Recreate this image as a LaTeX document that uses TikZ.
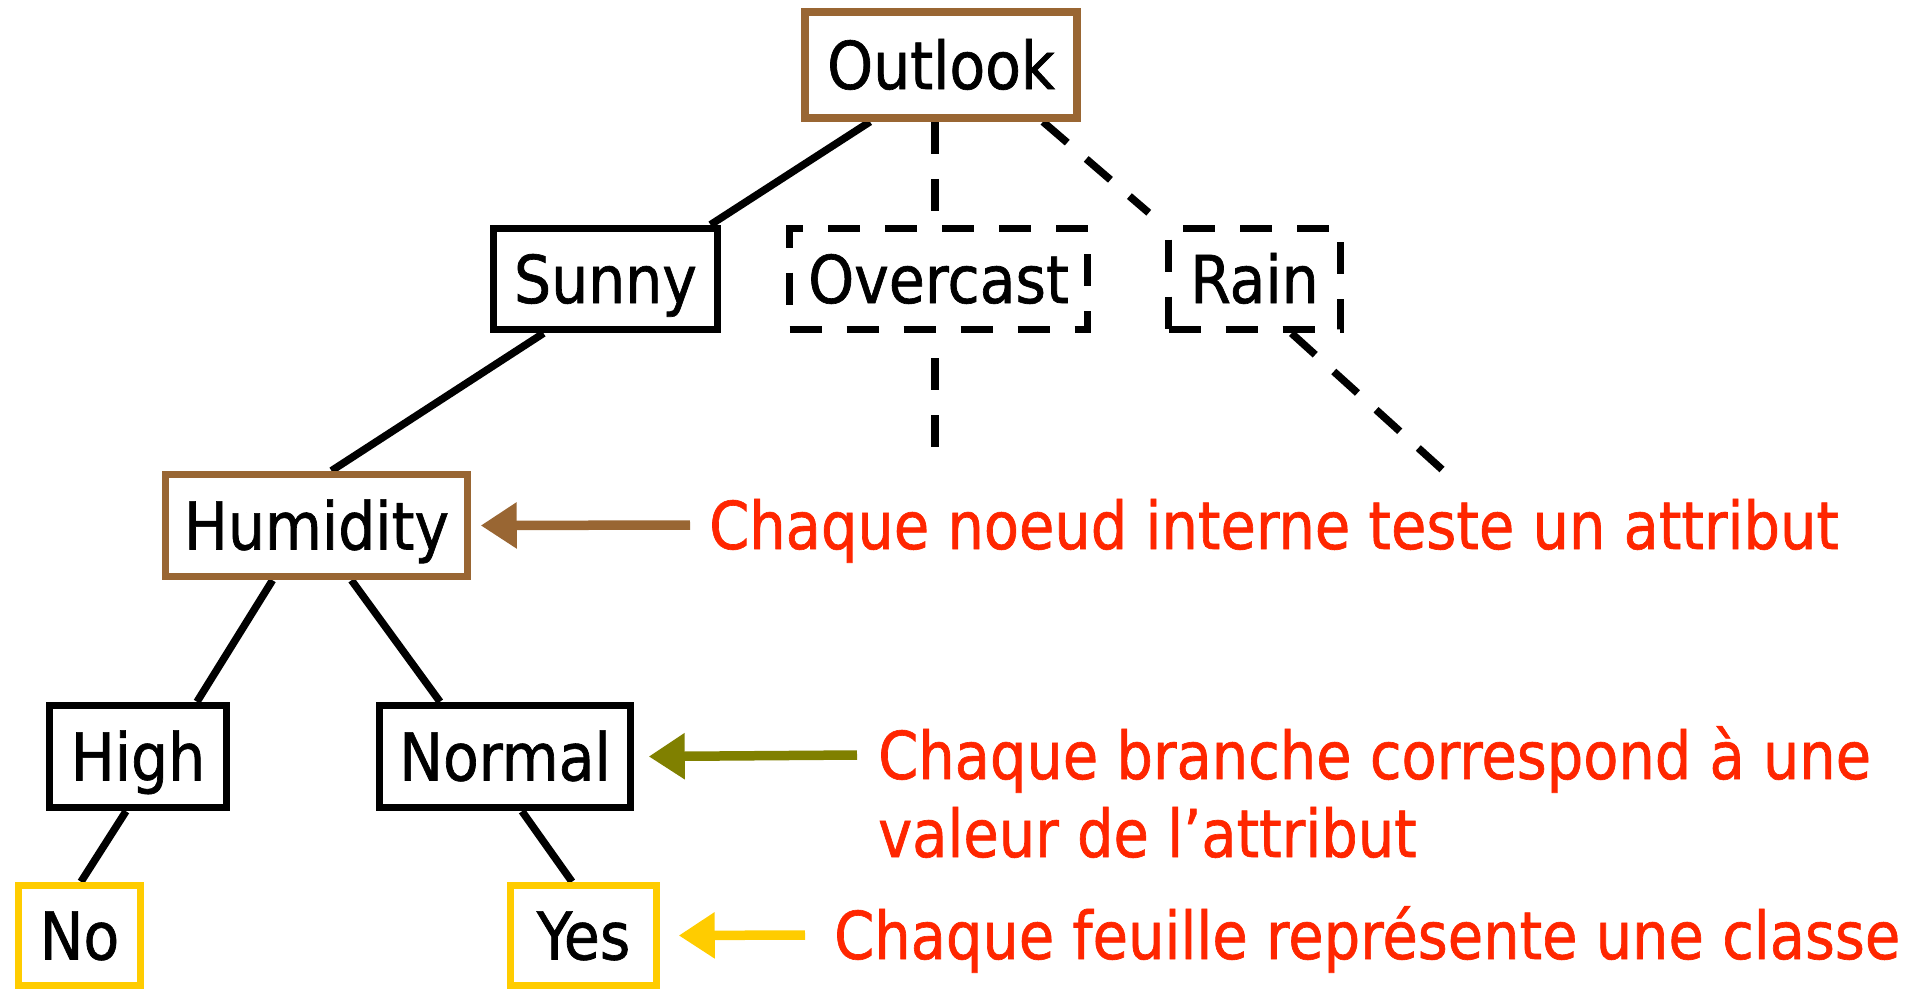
\documentclass[tikz,border=0pt]{standalone}
\usepackage{fontspec}
\setmainfont{DejaVu Sans Condensed}[FakeStretch=0.985,FakeBold=1]
\newfontfamily\notefont{DejaVu Sans Condensed}[FakeStretch=0.968,FakeBold=1]
\usetikzlibrary{arrows.meta,calc,backgrounds}

\definecolor{attrbrown}{RGB}{153,102,51}
\definecolor{brancholive}{RGB}{128,128,0}
\definecolor{leafyellow}{RGB}{255,204,0}
\definecolor{noteRed}{RGB}{255,38,0}

\begin{document}
\begin{tikzpicture}[x=1pt,y=-1pt,
  basebox/.style={draw, line width=7.5pt, fill=white, inner sep=0pt,
    text height=48pt, text depth=0pt,
    font=\fontsize{66pt}{79pt}\selectfont},
  testbox/.style={basebox, draw=attrbrown},
  valbox/.style={basebox, draw=black},
  openbox/.style={valbox, dash pattern=on 32pt off 25pt},
  leafbox/.style={basebox, draw=leafyellow},
  edge/.style={line width=7.5pt, black},
  openedge/.style={edge, dash pattern=on 32pt off 25pt},
  note/.style={inner sep=0pt, text height=48pt, text depth=0pt, anchor=west,
    text=noteRed, font=\notefont\fontsize{66pt}{79pt}\selectfont},
  pointer/.style={line width=9.5pt, -{Triangle[length=36pt,width=44pt]}}
]
\useasboundingbox (0,0) rectangle (1907,991);

% tree nodes
\node[testbox, minimum width=272pt, minimum height=106pt] (outlook) at (941,65) {Outlook};
\node[valbox, minimum width=224pt, minimum height=101pt] (sunny) at (605.5,279) {Sunny};
\node[openbox, minimum width=298pt, minimum height=101pt] (overcast) at (938.5,279) {Overcast};
\node[openbox, minimum width=172pt, minimum height=101pt] (rain) at (1254.5,279) {Rain};
\node[testbox, minimum width=302pt, minimum height=102pt] (humidity) at (316.5,525.5) {Humidity};
\node[valbox, minimum width=177pt, minimum height=102pt] (high) at (138,756.5) {High};
\node[valbox, minimum width=251pt, minimum height=102pt] (normal) at (505,756.5) {Normal};
\node[leafbox, minimum width=122pt, minimum height=100pt] (no) at (79.5,935.5) {No};
\node[leafbox, minimum width=146pt, minimum height=100pt] (yes) at (583.5,935.5) {Yes};

% loose ends of the unexpanded branches
\coordinate (ovcend) at (935,448);
\coordinate (rainend) at (1447,474);

% branches, kept behind the boxes
\begin{scope}[on background layer]
  \draw[edge] ([xshift=-71pt]outlook.south) -- ([xshift=105pt]sunny.north);
  \draw[openedge] ([xshift=-6pt]outlook.south) -- ([xshift=-3.5pt]overcast.north);
  \draw[openedge] ([xshift=102pt]outlook.south) -- ($(rain.north west)+(-16,-12)$);
  \draw[edge] ([xshift=-62pt]sunny.south) -- ([xshift=15pt]humidity.north);
  \draw[openedge, dash phase=32pt] ([xshift=-3.5pt]overcast.south) -- (ovcend);
  \draw[openedge] ([xshift=37pt]rain.south) -- (rainend);
  \draw[edge] ([xshift=-44pt]humidity.south) -- ([xshift=59pt]high.north);
  \draw[edge] ([xshift=35pt]humidity.south) -- ([xshift=-65pt]normal.north);
  \draw[edge] ([xshift=-12pt]high.south) -- ([xshift=1.5pt]no.north);
  \draw[edge] ([xshift=17pt]normal.south) -- ([xshift=-11.5pt]yes.north);
\end{scope}

% explanations
\node[note] (ntest) at (709,525) {Chaque noeud interne teste un attribut};
\node[note] (nbranch) at (878,755) {Chaque branche correspond à une};
\node[note] (nbranchb) at (878,833) {valeur de l’attribut};
\node[note] (nleaf) at (834,935) {Chaque feuille représente une classe};

\draw[pointer, attrbrown] ($(ntest.west)+(-19,0)$) -- ($(humidity.east)+(9.5,0)$);
\draw[pointer, brancholive] ($(nbranch.west)+(-21,0)$) -- ($(normal.east)+(14.5,0)$);
\draw[pointer, leafyellow] ($(nleaf.west)+(-29,0)$) -- ($(yes.east)+(18.5,0)$);
\end{tikzpicture}
\end{document}
